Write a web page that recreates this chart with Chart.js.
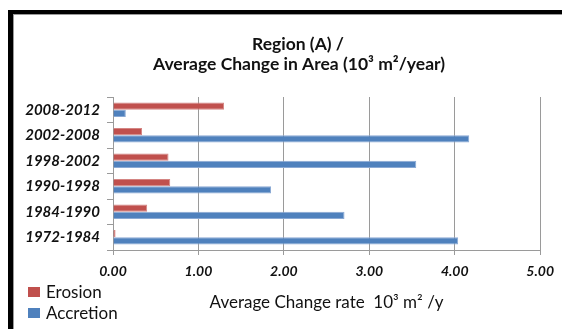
<!DOCTYPE html>
<html>
<head>
<meta charset="utf-8">
<script src="https://cdn.jsdelivr.net/npm/chart.js@4"></script>
<style>
  html, body { margin: 0; padding: 0; background: #fff; }
  #wrap { position: relative; width: 562px; height: 329px; overflow: hidden; }
  /* black frame on the left and top */
  #frame {
    position: absolute; left: 8px; top: 10px; width: 600px; height: 400px;
    border-left: 5px solid #000; border-top: 4px solid #000;
    box-shadow: inset 1px 1px 0 #9a9a9a;
  }
  #chart { position: absolute; left: 0; top: 0; }
</style>
</head>
<body>
<div id="wrap">
  <div id="frame"></div>
  <canvas id="chart" width="562" height="329"></canvas>
</div>
<script>
// periods, top to bottom
const periods = ["2008-2012", "2002-2008", "1998-2002", "1990-1998", "1984-1990", "1972-1984"];
// average change rate, 10^3 m2 / year
const erosion = [1.30, 0.34, 0.65, 0.67, 0.40, 0.03];
const accretion = [0.15, 4.17, 3.55, 1.85, 2.71, 4.04];
const xTicks = [0, 1, 2, 3, 4, 5];

const titleLines = ["Region (A) /", "Average Change in Area (10\u00B3 m\u00B2/year)"];
const axisTitle = "Average Change rate  10\u00B3 m\u00B2 /y";

const FONT = "Lato, 'Open Sans', sans-serif";
const RED = "#C0504D";
const BLUE = "#4F81BD";

// title and stacked legend drawn by hand
const extras = {
    id: "extras",
    afterDraw(chart) {
        const ctx = chart.ctx;
        ctx.save();
        ctx.fillStyle = "#111";
        ctx.textAlign = "center";
        ctx.textBaseline = "middle";
        ctx.font = "bold 17.5px " + FONT;
        ctx.fillText(titleLines[0], 298, 44);
        ctx.fillText(titleLines[1], 299, 64);

        const items = [["Erosion", RED, 292], ["Accretion", BLUE, 313]];
        ctx.textAlign = "left";
        ctx.font = "17px " + FONT;
        items.forEach(([label, color, y]) => {
            ctx.fillStyle = color;
            ctx.fillRect(28, y - 5, 12, 10);
            ctx.fillStyle = "#111";
            ctx.fillText(label, 46, y + 1);
        });
        ctx.restore();
    }
};

new Chart(document.getElementById("chart"), {
    type: "bar",
    data: {
        labels: periods,
        datasets: [
            {
                label: "Erosion",
                data: erosion,
                backgroundColor: RED,
                borderColor: "#D48583",
                borderWidth: 1,
                categoryPercentage: 0.56,
                barPercentage: 1
            },
            {
                label: "Accretion",
                data: accretion,
                backgroundColor: BLUE,
                borderColor: "#8AA9D4",
                borderWidth: 1,
                categoryPercentage: 0.56,
                barPercentage: 1
            }
        ]
    },
    options: {
        indexAxis: "y",
        responsive: false,
        animation: false,
        layout: { padding: { left: 0, right: 17, top: 97, bottom: 0 } },
        plugins: {
            legend: { display: false },
            title: { display: false },
            tooltip: { enabled: false }
        },
        scales: {
            x: {
                min: 0,
                max: 5,
                afterBuildTicks: (scale) => { scale.ticks = xTicks.map(v => ({ value: v })); },
                afterFit: (scale) => { scale.height = 79; },
                ticks: {
                    padding: 8,
                    color: "#111",
                    font: { family: FONT, size: 14, style: "italic", weight: "bold" },
                    callback: (v) => Number(v).toFixed(2)
                },
                grid: { color: "#9a9a9a", tickLength: 5 },
                border: { color: "#9a9a9a" },
                title: {
                    display: true,
                    text: axisTitle,
                    color: "#111",
                    font: { family: FONT, size: 17 },
                    padding: { top: 0, bottom: 16 }
                }
            },
            y: {
                afterFit: (scale) => { scale.width = 113; },
                ticks: {
                    padding: 7,
                    color: "#111",
                    font: { family: FONT, size: 15, style: "italic", weight: "bold" }
                },
                grid: { drawOnChartArea: false, color: "#9a9a9a", tickLength: 6 },
                border: { color: "#9a9a9a" }
            }
        }
    },
    plugins: [extras]
});
</script>
</body>
</html>
